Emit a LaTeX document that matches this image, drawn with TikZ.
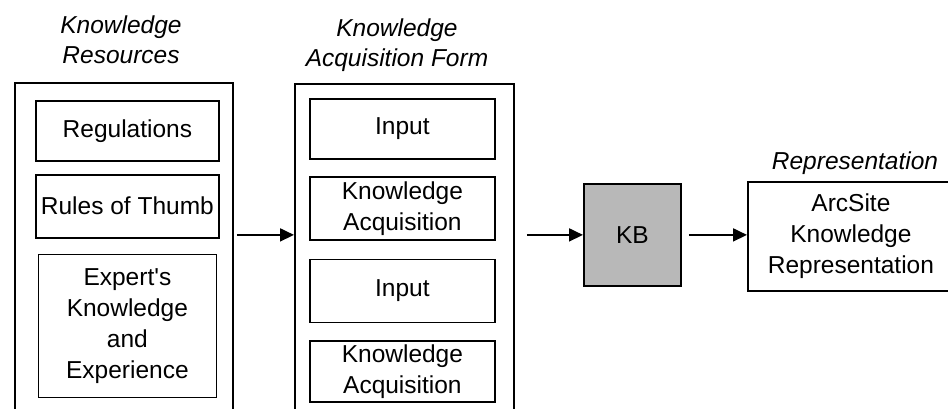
\documentclass[tikz,border=0pt]{standalone}
\usepackage{fontspec}
\setmainfont{Liberation Sans}
\usetikzlibrary{positioning,arrows.meta}

\begin{document}
\begin{tikzpicture}[
    x=1pt, y=-1pt,
    font=\fontsize{24.5}{31}\selectfont,
    node distance=12pt,
    frame/.style={rectangle, draw=black, line width=1.8pt, anchor=north west, inner sep=0pt, minimum height=360pt},
    block/.style={rectangle, draw=black, line width=1.8pt, align=center, inner sep=0pt, anchor=north west},
    kbblock/.style={block, fill=black!28},
    title/.style={font=\fontsize{24.5}{30}\selectfont\itshape, align=center},
    arrow/.style={-{Triangle[length=14pt,width=13pt]}, line width=1.8pt}
  ]
    \useasboundingbox (0,0) rectangle (948,409);
    \clip (0,0) rectangle (948,409);

    % Knowledge resources
    \node[title] (restitle) at (121,40) {Knowledge\\Resources};
    \node[frame, minimum width=218pt] (resframe) at (14,82) {};
    \node[block, minimum width=183pt, minimum height=60pt] (reg) at (35,100) {Regulations};
    \node[block, minimum width=183pt, minimum height=63pt, below=12pt of reg] (thumb) {Rules of Thumb};
    \node[block, minimum width=178pt, minimum height=143pt, below=15pt of thumb] (expert) {Expert\textquotesingle s\\Knowledge\\and\\Experience};

    % Knowledge acquisition form
    \node[title] (formtitle) at (397,45) {Knowledge\\Acquisition Form};
    \node[frame, minimum width=219pt] (formframe) at (294,83) {};
    \node[block, minimum width=185pt, minimum height=60pt] (input1) at (309,98) {Input};
    \node[block, minimum width=185pt, minimum height=63pt, below=16pt of input1] (acq1) {Knowledge\\Acquisition};
    \node[block, minimum width=185pt, minimum height=63pt, below=18pt of acq1] (input2) {Input};
    \node[block, minimum width=185pt, minimum height=61pt, below=17pt of input2] (acq2) {Knowledge\\Acquisition};

    % Knowledge base and representation
    \node[kbblock, minimum width=97pt, minimum height=102pt] (kb) at (583,183) {KB};
    \node[block, minimum width=206pt, minimum height=109pt] (rep) at (747,181) {ArcSite\\Knowledge\\Representation};
    \node[title, anchor=base] (reptitle) at (855,169) {Representation};

    % Connections
    \draw[arrow, shorten <=3pt] (resframe.east |- kb) -- (formframe.west |- kb);
    \draw[arrow, shorten <=12pt] (formframe.east |- kb) -- (kb.west);
    \draw[arrow, shorten <=7pt] (kb.east) -- (rep.west |- kb);
\end{tikzpicture}
\end{document}
